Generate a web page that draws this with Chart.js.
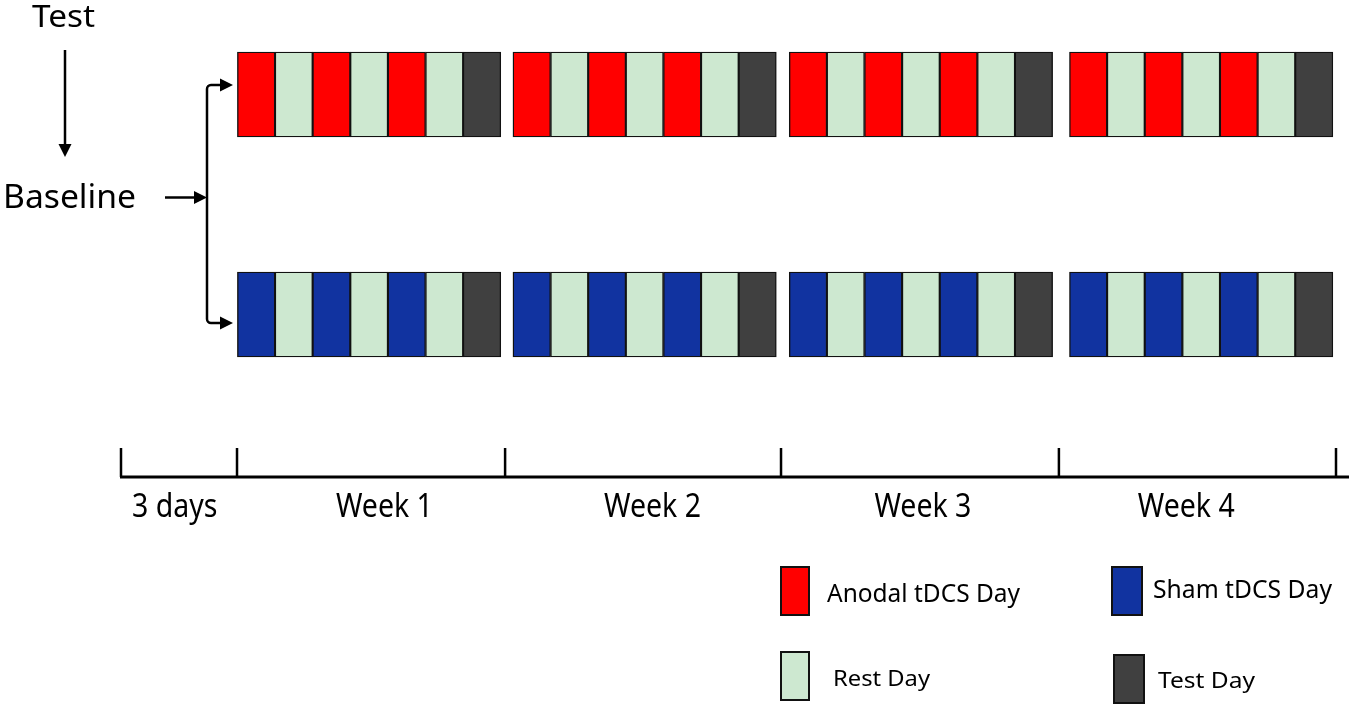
<!DOCTYPE html>
<html>
<head>
<meta charset="utf-8">
<title>tDCS protocol</title>
<script src="https://cdn.jsdelivr.net/npm/chart.js@4.4.0/dist/chart.umd.min.js"></script>
<style>
  html, body { margin: 0; padding: 0; background: #fff; }
  #wrap { width: 1351px; height: 706px; position: relative; }
</style>
</head>
<body>
<div id="wrap"><canvas id="protocolChart"></canvas></div>
<script>
// rows of the design, 0 = top row, 1 = bottom row
const groups = ['Anodal', 'Sham'];
const weeks = ['Week 1', 'Week 2', 'Week 3', 'Week 4'];
// day on the timeline where each week's block of cells starts
const weekStartDay = [2.97, 10, 17.05, 24.2];
// what happens on each day of a week
const dayPattern = ['tDCS', 'Rest', 'tDCS', 'Rest', 'tDCS', 'Rest', 'Test'];

// timeline under the blocks
const timelineTicks = [0, 2.96, 9.8, 16.84, 23.93, 31];
const timelineLabels = ['3 days', 'Week 1', 'Week 2', 'Week 3', 'Week 4'];
const timelineLabelDay = [1.37, 6.72, 13.56, 20.46, 27.18];

const dayTypes = ['Anodal tDCS Day', 'Sham tDCS Day', 'Rest Day', 'Test Day'];
const dayColors = ['#ff0000', '#1133a0', '#cde8d0', '#404040'];

const CELL = 0.96; // width of one day cell (in days)
const PX_DAY = (1336 - 121) / 31;
const ROW_PX = 220;

function buildCells() {
    const cells = dayTypes.map(() => []);
    groups.forEach((g, row) => {
        weekStartDay.forEach(start => {
            dayPattern.forEach((kind, i) => {
                let t = 3;
                if (kind === 'tDCS') t = row === 0 ? 0 : 1;
                else if (kind === 'Rest') t = 2;
                cells[t].push({ x: [start + i * CELL, start + (i + 1) * CELL], y: row });
            });
        });
    });
    return cells;
}

// draw text squeezed/stretched so it spans a given width
function fitText(ctx, text, x, y, size, width, align) {
    ctx.save();
    ctx.font = size + 'px "Noto Sans"';
    const sx = width ? width / ctx.measureText(text).width : 1;
    ctx.translate(x, y);
    ctx.scale(sx, 1);
    ctx.textAlign = align || 'left';
    ctx.textBaseline = 'alphabetic';
    ctx.fillStyle = '#000';
    ctx.fillText(text, 0, 0);
    ctx.restore();
}

function arrowHead(ctx, x, y, dir) {
    ctx.beginPath();
    if (dir === 'down') {
        ctx.moveTo(x, y);
        ctx.lineTo(x - 6.5, y - 13);
        ctx.lineTo(x + 6.5, y - 13);
    } else {
        ctx.moveTo(x, y);
        ctx.lineTo(x - 13, y - 6.5);
        ctx.lineTo(x - 13, y + 6.5);
    }
    ctx.closePath();
    ctx.fill();
}

const decorPlugin = {
    id: 'protocolDecor',
    afterDraw(chart, args, opts) {
        const ctx = chart.ctx;
        const xs = chart.scales.x;
        ctx.save();
        ctx.strokeStyle = '#000';
        ctx.fillStyle = '#000';
        ctx.lineWidth = 2.5;

        // left side: Test -> Baseline -> split into two groups
        fitText(ctx, 'Test', 63.5, 27, 31, 63, 'center');
        ctx.beginPath(); ctx.moveTo(65, 50); ctx.lineTo(65, 146); ctx.stroke();
        arrowHead(ctx, 65, 157, 'down');
        fitText(ctx, 'Baseline', 3, 208, 32, 133, 'left');
        ctx.beginPath(); ctx.moveTo(165, 197.5); ctx.lineTo(197, 197.5); ctx.stroke();
        arrowHead(ctx, 207, 197.5, 'right');
        ctx.beginPath();
        ctx.moveTo(223, 85);
        ctx.arcTo(207, 85, 207, 200, 4);
        ctx.arcTo(207, 323, 223, 323, 4);
        ctx.lineTo(223, 323);
        ctx.stroke();
        arrowHead(ctx, 233, 85, 'right');
        arrowHead(ctx, 233, 323, 'right');

        // timeline
        const ty = opts.timelineY;
        const first = xs.getPixelForValue(timelineTicks[0]);
        const last = xs.getPixelForValue(timelineTicks[timelineTicks.length - 1]);
        ctx.lineWidth = 3;
        ctx.beginPath(); ctx.moveTo(first - 1, ty); ctx.lineTo(last + 13, ty); ctx.stroke();
        ctx.lineWidth = 2.5;
        timelineTicks.forEach(d => {
            const px = xs.getPixelForValue(d);
            ctx.beginPath(); ctx.moveTo(px, ty); ctx.lineTo(px, ty - 29); ctx.stroke();
        });
        ctx.font = '32px "Noto Sans"';
        const sx = 97 / ctx.measureText('Week 1').width;
        timelineLabels.forEach((lab, i) => {
            const w = ctx.measureText(lab).width * sx;
            fitText(ctx, lab, xs.getPixelForValue(timelineLabelDay[i]), ty + 40, 32, w, 'center');
        });

        // legend, one box per dataset
        chart.data.datasets.forEach((ds, i) => {
            const L = opts.legend[i];
            ctx.fillStyle = ds.backgroundColor;
            ctx.fillRect(L.x, L.y, L.w, L.h);
            ctx.lineWidth = 2;
            ctx.strokeStyle = '#111';
            ctx.strokeRect(L.x, L.y, L.w, L.h);
            fitText(ctx, ds.label, L.tx, L.ty, L.size, L.tw, 'left');
        });
        ctx.restore();
    }
};

const cells = buildCells();

new Chart(document.getElementById('protocolChart'), {
    type: 'bar',
    data: {
        datasets: dayTypes.map((label, t) => ({
            label: label,
            data: cells[t],
            backgroundColor: dayColors[t],
            borderColor: '#111',
            borderWidth: 1.4,
            borderSkipped: false,
            barThickness: 85,
            grouped: false
        }))
    },
    options: {
        indexAxis: 'y',
        responsive: true,
        maintainAspectRatio: false,
        animation: false,
        layout: { padding: 0 },
        scales: {
            x: { type: 'linear', display: false, offset: false,
                 min: -121 / PX_DAY, max: 31 + 15 / PX_DAY },
            y: { type: 'linear', display: false, reverse: true, offset: false,
                 min: -94.5 / ROW_PX, max: (706 - 94.5) / ROW_PX }
        },
        plugins: {
            legend: { display: false },
            tooltip: { enabled: false },
            protocolDecor: {
                timelineY: 477,
                legend: [
                    { x: 781, y: 567, w: 28, h: 48, tx: 827, ty: 602, size: 26, tw: 193 },
                    { x: 1112, y: 567, w: 30, h: 48, tx: 1153, ty: 598, size: 25, tw: 179 },
                    { x: 781, y: 652, w: 28, h: 48, tx: 833, ty: 686, size: 22, tw: 97 },
                    { x: 1114, y: 655, w: 30, h: 48, tx: 1158, ty: 688, size: 22.5, tw: 97 }
                ]
            }
        }
    },
    plugins: [decorPlugin]
});
</script>
</body>
</html>
